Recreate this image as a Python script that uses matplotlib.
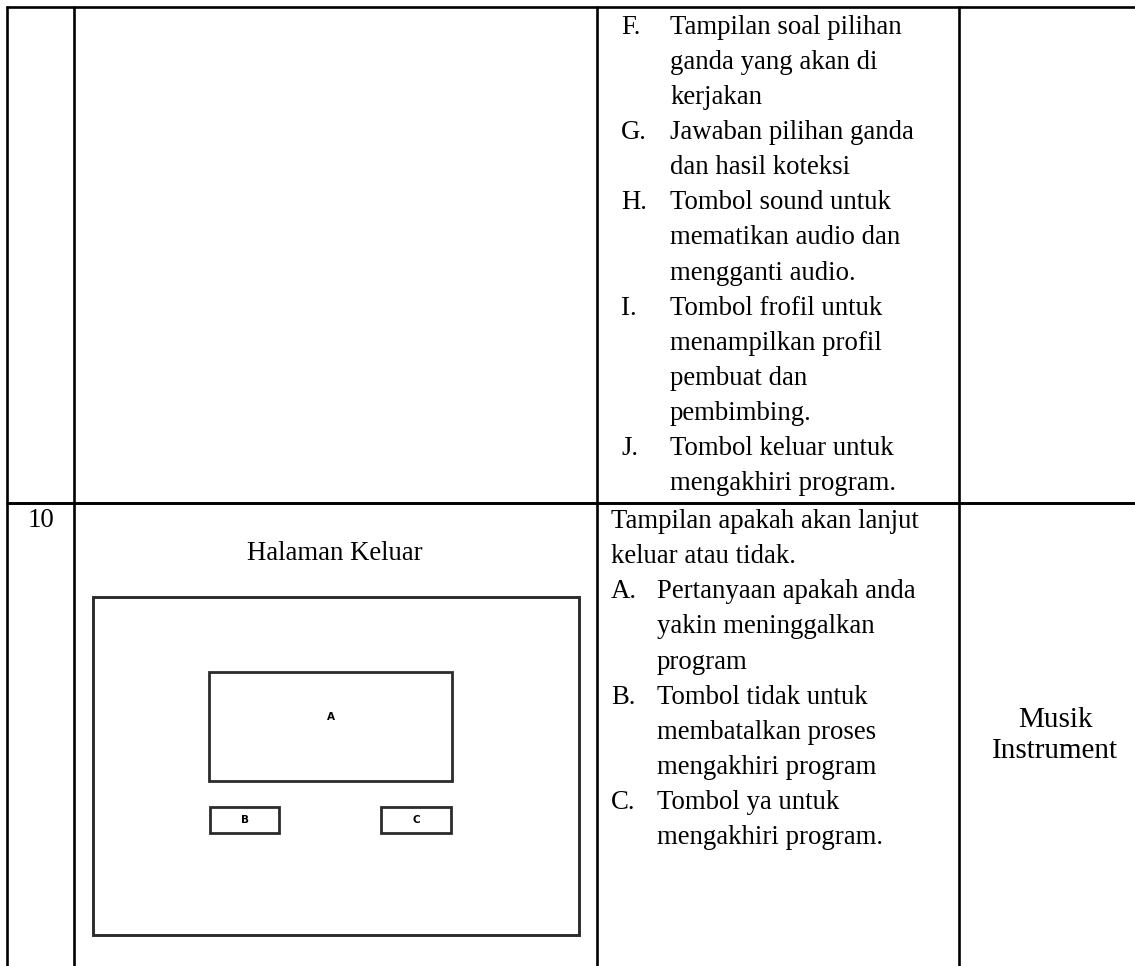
#!/usr/bin/env python3
"""table page: Halaman Keluar"""
import matplotlib.pyplot as plt
from matplotlib.patches import Rectangle

# text content of the table
row_number = "10"
page_title = "Halaman Keluar"
media_label = ["Musik", "Instrument"]

top_letters = ["F.", "G.", "H.", "I.", "J."]
top_items = [
    ["Tampilan soal pilihan", "ganda yang akan di", "kerjakan"],
    ["Jawaban pilihan ganda", "dan hasil koteksi"],
    ["Tombol sound untuk", "mematikan audio dan", "mengganti audio."],
    ["Tombol frofil untuk", "menampilkan profil", "pembuat dan", "pembimbing."],
    ["Tombol keluar untuk", "mengakhiri program."],
]

intro_lines = ["Tampilan apakah akan lanjut", "keluar atau tidak."]
bottom_letters = ["A.", "B.", "C."]
bottom_items = [
    ["Pertanyaan apakah anda", "yakin meninggalkan", "program"],
    ["Tombol tidak untuk", "membatalkan proses", "mengakhiri program"],
    ["Tombol ya untuk", "mengakhiri program."],
]

# wireframe boxes (x0, y0, x1, y1) in page pixels and their labels
wire_boxes = [(209, 672, 452, 781), (210, 807, 279, 833), (381, 807, 451, 833)]
wire_labels = ["A", "B", "C"]

W, H = 1135, 966
fig = plt.figure(figsize=(W / 100, H / 100), dpi=100)
ax = fig.add_axes([0, 0, 1, 1])
ax.set_xlim(0, W)
ax.set_ylim(H, 0)
ax.axis("off")

serif = "Liberation Serif"
fs = 19.3
step = 35.15
lw = 1.9

# table grid
ax.plot([6, W], [7.3, 7.3], color="black", lw=lw, solid_capstyle="butt")
ax.plot([6, W], [503, 503], color="black", lw=lw + 0.2, solid_capstyle="butt")
for x in [7.3, 73.5, 596.7, 959]:
    ax.plot([x, x], [6.3, H], color="black", lw=lw, solid_capstyle="butt")

# upper row, description column
y = 33.5
for letter, lines in zip(top_letters, top_items):
    ax.text(621, y, letter, family=serif, fontsize=fs, va="baseline")
    for line in lines:
        ax.text(670, y, line, family=serif, fontsize=fs, va="baseline")
        y += step

# lower row
ax.text(28, 527, row_number, family=serif, fontsize=fs, va="baseline")
ax.text(335, 560, page_title, family=serif, fontsize=fs, va="baseline", ha="center")

y = 528
for line in intro_lines:
    ax.text(611, y, line, family=serif, fontsize=fs, va="baseline")
    y += step
for letter, lines in zip(bottom_letters, bottom_items):
    ax.text(611, y, letter, family=serif, fontsize=fs, va="baseline")
    for line in lines:
        ax.text(657, y, line, family=serif, fontsize=fs, va="baseline")
        y += step

ax.text(1055, 727, media_label[0], family=serif, fontsize=21, va="baseline", ha="center")
ax.text(1055, 758, media_label[1], family=serif, fontsize=21, va="baseline", ha="center")

# wireframe sketch
ax.add_patch(Rectangle((93, 597), 579 - 93, 935 - 597, fill=False,
                       edgecolor="#2b2b2b", lw=2.1))
for (x0, y0, x1, y1), lab in zip(wire_boxes, wire_labels):
    ax.add_patch(Rectangle((x0, y0), x1 - x0, y1 - y0, fill=False,
                           edgecolor="#2b2b2b", lw=2.0))
    cy = (y0 + y1) / 2 if lab != "A" else 717
    ax.text((x0 + x1) / 2, cy, lab, family="DejaVu Sans", fontweight="heavy",
            fontsize=7.5, ha="center", va="center")

fig.savefig("out.png", dpi=100)
